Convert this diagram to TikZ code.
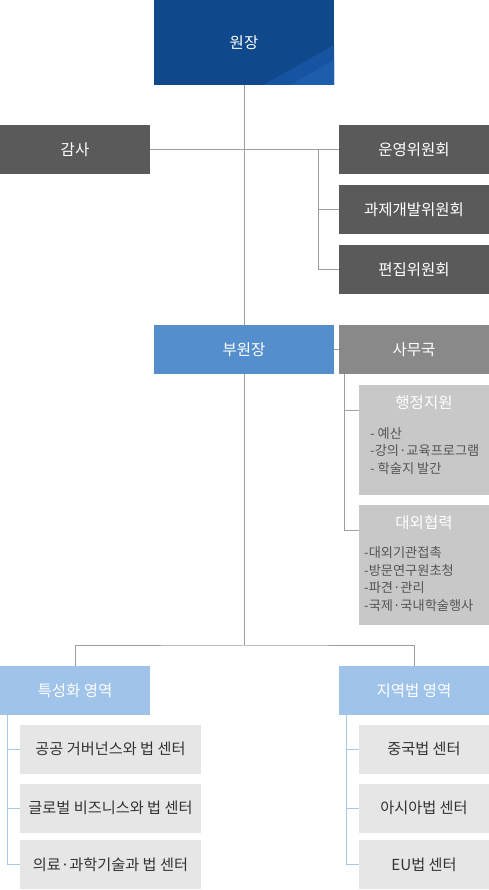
\documentclass[tikz,border=0pt]{standalone}
\usepackage{fontspec}
\setmainfont{Noto Sans CJK KR}
\usepackage{tikz}
\usetikzlibrary{positioning, calc}
\definecolor{orgnavy}{HTML}{10498B}
\definecolor{orgstripe}{HTML}{1653A0}
\definecolor{orgstripelt}{HTML}{1D5EAC}
\definecolor{orgdark}{HTML}{5A5A5A}
\definecolor{orgblue}{HTML}{548ECD}
\definecolor{orggray}{HTML}{898989}
\definecolor{orgsilver}{HTML}{C8C8C8}
\definecolor{orgsky}{HTML}{A0C3EA}
\definecolor{orgpale}{HTML}{E6E6E6}
\definecolor{orgline}{HTML}{9E9E9E}
\definecolor{orgskyline}{HTML}{A8C8EE}
\definecolor{orgtext}{HTML}{333333}
\definecolor{orgitem}{HTML}{555555}

\begin{document}
\begin{tikzpicture}[x=1pt, y=-1pt,
    unit/.style={rectangle, fill=#1, text=white, minimum width=150pt, minimum height=49pt, inner sep=0pt, outer sep=0pt, font=\fontsize{15.5}{17}\selectfont},
    wideunit/.style={unit=#1, minimum width=180pt},
    center/.style={rectangle, fill=orgpale, text=orgtext, minimum width=#1, minimum height=49pt, inner sep=0pt, outer sep=0pt, font=\fontsize{15.2}{17}\selectfont},
    panel/.style={rectangle, fill=orgsilver, minimum width=130pt, minimum height=#1, inner sep=0pt, outer sep=0pt},
    items/.style={anchor=west, text=orgitem, align=left, inner sep=0pt, font=\fontsize{13.2}{17.5}\selectfont},
    link/.style={draw=orgline, line width=1pt},
    sublink/.style={draw=orgskyline, line width=1pt}
]
\useasboundingbox (0,0) rectangle (489,890);

\node[wideunit=orgnavy, minimum height=85pt] (director) at (244,42.5) {원장};
\fill[orgstripe] (334,45) -- (263,85) -- (334,85) -- cycle;
\fill[orgstripelt] (334,60) -- (290,85) -- (334,85) -- cycle;

\node[unit=orgdark] (audit) at (75,149.5) {감사};
\node[unit=orgdark] (steering) at (414,149.5) {운영위원회};
\node[unit=orgdark] (project) at (414,209.5) {과제개발위원회};
\node[unit=orgdark] (editorial) at (414,269.5) {편집위원회};

\node[wideunit=orgblue] (vice) at (244,349.5) {부원장};
\node[unit=orggray] (office) at (414,349.5) {사무국};

% Secretariat panels
\node[panel=110pt] (admin) at (424,440) {};
\node[text=white, font=\fontsize{15.5}{17}\selectfont] (admintitle) at (424,403) {행정지원};
\node[items] (adminlist) at (370,451) {- 예산\\-강의·교육프로그램\\- 학술지 발간};

\node[panel=120pt] (extern) at (424,565) {};
\node[text=white, font=\fontsize{15.5}{17}\selectfont] (externtitle) at (424,523) {대외협력};
\node[items] (externlist) at (364,579) {-대외기관접촉\\-방문연구원초청\\-파견·관리\\-국제·국내학술행사};

% Research areas
\node[unit=orgsky] (special) at (75,690.5) {특성화 영역};
\node[unit=orgsky] (regional) at (414,690.5) {지역법 영역};

\node[center=181pt] (governance) at (110.5,749) {공공 거버넌스와 법 센터};
\node[center=181pt] (business) at (110.5,808) {글로벌 비즈니스와 법 센터};
\node[center=181pt] (medical) at (110.5,864.5) {의료·과학기술과 법 센터};

\node[center=130pt] (china) at (424,749) {중국법 센터};
\node[center=130pt] (asia) at (424,808) {아시아법 센터};
\node[center=130pt] (eu) at (424,864.5) {EU법 센터};

\coordinate (committees) at (318,149.5);
\coordinate (split) at (244,645);

\draw[link] (director) -- (vice);
\draw[link] (audit) -- (steering);
\draw[link] (committees) |- (project);
\draw[link] (committees) |- (editorial);
\draw[link] (vice) -- (office);
\draw[link] ([xshift=5pt]office.south west) |- ([yshift=-25pt]admin.north west);
\draw[link] ([xshift=5pt]office.south west) |- ([yshift=-25pt]extern.north west);
\draw[link] (vice) -- (split);
\draw[link] (special) |- (split) -| (regional);

\draw[sublink] ([xshift=7pt]special.south west) |- (governance);
\draw[sublink] ([xshift=7pt]special.south west) |- (business);
\draw[sublink] ([xshift=7pt]special.south west) |- (medical);
\draw[sublink] ([xshift=7pt]regional.south west) |- (china);
\draw[sublink] ([xshift=7pt]regional.south west) |- (asia);
\draw[sublink] ([xshift=7pt]regional.south west) |- (eu);

\end{tikzpicture}
\end{document}
